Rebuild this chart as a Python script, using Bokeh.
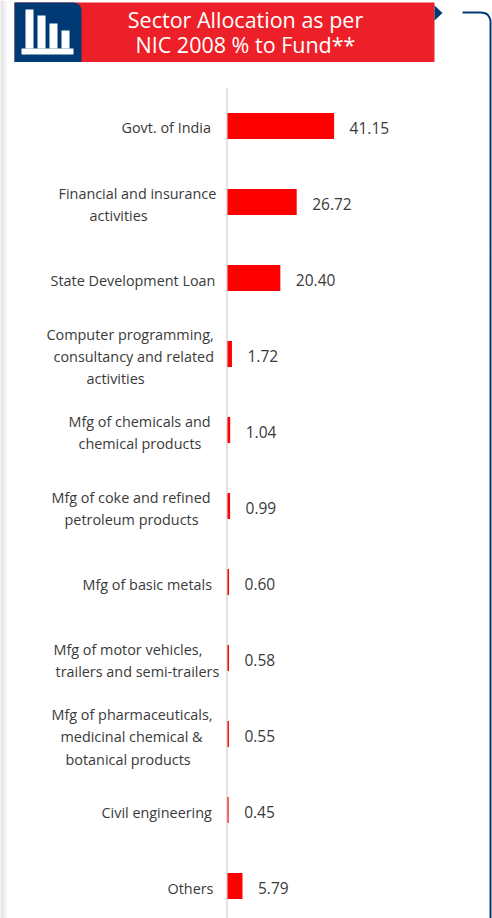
from bokeh.plotting import figure
from bokeh.models import Range1d, ColumnDataSource
from bokeh.core.properties import value
from bokeh.embed import file_html
from bokeh.resources import INLINE
import math

values = [41.15, 26.72, 20.40, 1.72, 1.04, 0.99, 0.60, 0.58, 0.55, 0.45, 5.79]
value_labels = ["41.15", "26.72", "20.40", "1.72", "1.04", "0.99", "0.60", "0.58", "0.55", "0.45", "5.79"]
rows = list(range(len(values)))
label_lines = [
    ["Govt. of India"],
    ["Financial and insurance", "activities"],
    ["State Development Loan"],
    ["Computer programming,", "consultancy and related", "activities"],
    ["Mfg of chemicals and", "chemical products"],
    ["Mfg of coke and refined", "petroleum products"],
    ["Mfg of basic metals"],
    ["Mfg of motor vehicles,", "trailers and semi-trailers"],
    ["Mfg of pharmaceuticals,", "medicinal chemical &", "botanical products"],
    ["Civil engineering"],
    ["Others"],
]
title_lines = ["Sector Allocation as per", "NIC 2008 % to Fund**"]

# page layout (pixels)
W, H = 492, 918
PX0, PY0 = 0, 0
ZERO_X, PX_PER_UNIT = 227.0, 2.59
ROW0_Y, ROW_STEP = 125.5, 76.0
label_left = [[121], [58, 89], [50], [46, 53, 86], [68, 78], [51, 64], [82], [53, 55], [51, 60, 65], [101], [167]]
label_y = [[127], [193, 215], [280], [334, 356, 378], [421, 443], [497, 519], [584], [649, 671], [714, 736, 759], [812], [888]]

x0 = (PX0 - ZERO_X) / PX_PER_UNIT
x1 = (PX0 + W - ZERO_X) / PX_PER_UNIT
y0 = (PY0 - ROW0_Y) / ROW_STEP
y1 = (PY0 + H - ROW0_Y) / ROW_STEP
dx = lambda px: (px - ZERO_X) / PX_PER_UNIT
dy = lambda py: (py - ROW0_Y) / ROW_STEP

p = figure(width=W, height=H, x_range=Range1d(x0, x1), y_range=Range1d(y1, y0),
           output_backend="svg", toolbar_location=None, min_border=0)
p.axis.visible = False
p.grid.visible = False
p.outline_line_color = None
p.background_fill_color = "white"

FONT = value("Open Sans")

# left page shadow
for i, c in enumerate(["#d6d6d6", "#dcdcdc", "#e2e2e2", "#e8e8e8", "#eeeeee", "#f3f3f3", "#f8f8f8", "#fcfcfc"]):
    p.quad(left=dx(i), right=dx(i + 1), top=dy(0), bottom=dy(918), fill_color=c, line_color=None)

# header
p.quad(left=dx(14), right=dx(434), top=dy(2), bottom=dy(61.5), fill_color="#ed1f28", line_color=None)
r = 8
arc = [(81 - r + r * math.cos(a * math.pi / 12), 2 + r - r * math.sin(a * math.pi / 12)) for a in range(7)]
navy = [(14, 2)] + list(reversed(arc)) + [(81, 61.5), (14, 61.5)]
p.patch([dx(a) for a, _ in navy], [dy(b) for _, b in navy], fill_color="#003a75", line_color=None)
p.quad(left=[dx(21)], right=[dx(73)], top=[dy(48)], bottom=[dy(54)], fill_color="white", line_color=None)
p.quad(left=[dx(a) for a in (25, 37, 49, 61)], right=[dx(a) for a in (33, 45, 57, 69)],
       top=[dy(a) for a in (9, 15, 23, 30)], bottom=[dy(48)] * 4, fill_color="white", line_color=None)
p.patch([dx(434), dx(442), dx(434)], [dy(5), dy(12.5), dy(20)], fill_color="#003a75", line_color=None)
p.text(x=[dx(245)] * 2, y=[dy(18.5), dy(43.5)], text=title_lines, text_font=FONT, text_font_size="21.5px",
       text_color="white", text_align="center", text_baseline="middle")

# bracket on the right
p.line([dx(a) for a in (462, 480, 484, 487, 489, 490, 490)], [dy(b) for b in (12, 12, 12.5, 14, 17, 20, 918)],
       line_color="#003a75", line_width=2)

# axis line
p.segment(x0=[dx(226.5)], x1=[dx(226.5)], y0=[dy(88)], y1=[dy(918)], line_color="#d9d9d9", line_width=1.5)

# bars
src = ColumnDataSource(dict(y=rows, v=values, t=value_labels))
p.hbar(y="y", left=0, right="v", height=0.34, source=src, fill_color="#ff0000", line_color=None)
p.text(x="v", y="y", text="t", source=src, x_offset=15.5, y_offset=2, text_font=FONT, text_font_size="15.5px",
       text_color="#3a3a3a", text_align="left", text_baseline="middle")

# category labels
tx, ty, tt = [], [], []
for lines, lefts, ys in zip(label_lines, label_left, label_y):
    for s, a, b in zip(lines, lefts, ys):
        tx.append(dx(a)); ty.append(dy(b)); tt.append(s)
p.text(x=tx, y=ty, text=tt, text_font=FONT, text_font_size="14.4px", text_color="#3a3a3a",
       text_align="left", text_baseline="middle")

open("out.html", "w").write(file_html(p, INLINE))
